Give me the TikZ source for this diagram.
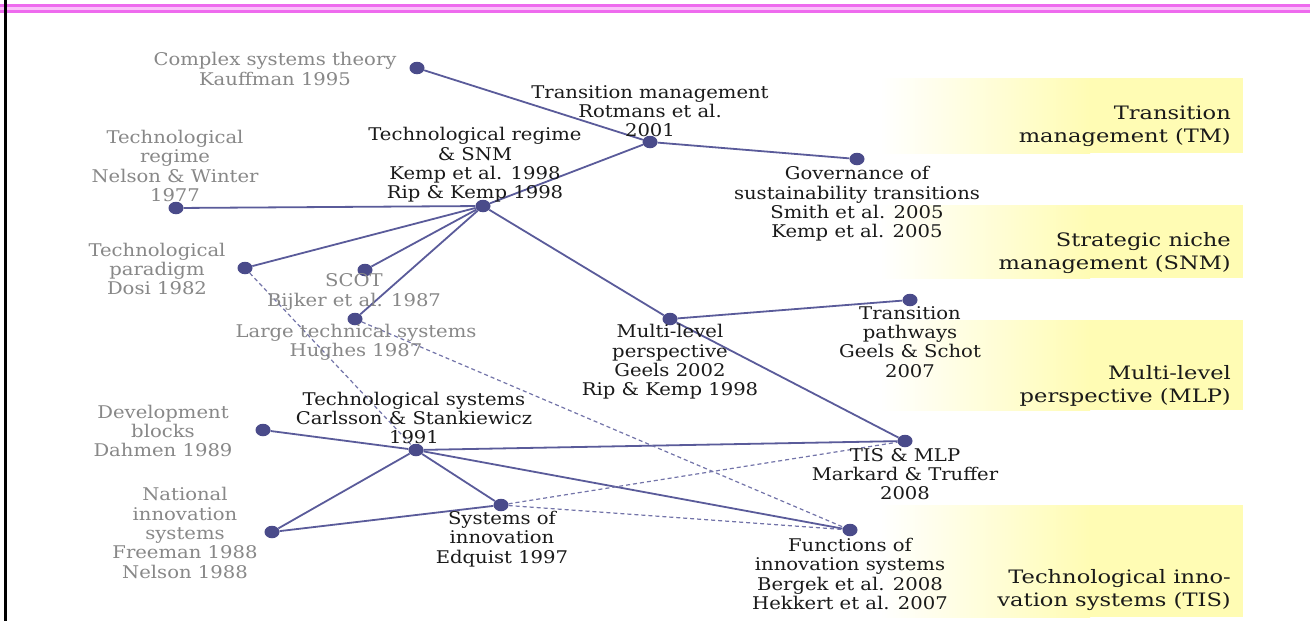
\documentclass[tikz,border=0pt]{standalone}
\usepackage{fontspec}
\setmainfont{DejaVu Serif}
\newfontfamily\conceptfont{DejaVu Serif}[FakeStretch=1.12]
\newfontfamily\fieldfont{DejaVu Serif}[FakeStretch=1.22]
\usetikzlibrary{shapes.geometric}
\definecolor{dotblue}{HTML}{4A4B8A}
\definecolor{linkblue}{HTML}{5A5B9A}
\definecolor{ink}{HTML}{1A1A1A}
\definecolor{oldgray}{HTML}{888888}
\definecolor{rulepink}{HTML}{EE6BEE}
\definecolor{rulelight}{HTML}{FAC2FA}
\definecolor{bandyellow}{HTML}{FFFCB4}
\begin{document}
\begin{tikzpicture}[x=1pt,y=-1pt,
  dot/.style={ellipse,fill=dotblue,inner sep=0pt,minimum width=15pt,minimum height=12.5pt},
  link/.style={draw=linkblue,line width=1.8pt},
  weak/.style={draw=linkblue!85,line width=1.2pt,dash pattern=on 4pt off 3pt},
  lbl/.style={align=center,inner sep=0pt,font=\conceptfont\fontsize{17.5}{19.3}\selectfont,text=ink},
  old/.style={lbl,text=oldgray},
  field/.style={align=right,inner sep=0pt,anchor=east,font=\fieldfont\fontsize{18.5}{22.5}\selectfont,text=ink}
]
\useasboundingbox (0,0) rectangle (1310,621);
\fill[white] (0,0) rectangle (1310,621);

% slide frame
\draw[rulepink,line width=9pt] (0,8.5) -- (1310,8.5);
\draw[rulelight,line width=3pt] (0,8.5) -- (1310,8.5);
\draw[black,line width=3pt] (5,0) -- (5,621);

% yellow bands behind the field names
\foreach \ya/\yb in {78/153, 205/278, 320/410, 505/617}{
  \shade[left color=white,right color=bandyellow] (880,\ya) rectangle (1090,\yb);
  \fill[bandyellow] (1089,\ya) rectangle (1243,\yb);
}

% field names
\node[field] (fTM)  at (1231,126) {Transition\\management (TM)};
\node[field] (fSNM) at (1231,253) {Strategic niche\\management (SNM)};
\node[field] (fMLP) at (1231,386) {Multi-level\\perspective (MLP)};
\node[field] (fTIS) at (1231,590) {Technological inno-\\vation systems (TIS)};

% concept dots
\node[dot] (cst)  at (417,68) {};
\node[dot] (tm)   at (650,142) {};
\node[dot] (gov)  at (857,159) {};
\node[dot] (tr)   at (483,206) {};
\node[dot] (nw)   at (176,208) {};
\node[dot] (tp)   at (245,268) {};
\node[dot] (scot) at (365,270) {};
\node[dot] (lts)  at (355,319) {};
\node[dot] (mlp)  at (670,319) {};
\node[dot] (tpw)  at (910,300) {};
\node[dot] (db)   at (263,430) {};
\node[dot] (ts)   at (416,450) {};
\node[dot] (tis)  at (905,441) {};
\node[dot] (nis)  at (272,532) {};
\node[dot] (si)   at (501,505) {};
\node[dot] (fis)  at (850,530) {};

% lineage links
\draw[link] (cst) -- (tm);
\draw[link] (tm) -- (gov);
\draw[link] (tm) -- (tr);
\draw[link] (nw) -- (tr);
\draw[link] (tp) -- (tr);
\draw[link] (scot) -- (tr);
\draw[link] (lts) -- (tr);
\draw[link] (tr) -- (mlp);
\draw[link] (mlp) -- (tpw);
\draw[link] (mlp) -- (tis);
\draw[link] (db) -- (ts);
\draw[link] (ts) -- (tis);
\draw[link] (ts) -- (fis);
\draw[link] (ts) -- (si);
\draw[link] (ts) -- (nis);
\draw[link] (nis) -- (si);
\draw[weak] (tp) -- (ts);
\draw[weak] (lts) -- (fis);
\draw[weak] (si) -- (tis);
\draw[weak] (si) -- (fis);

% concept labels
\node[old] (lcst)  at (275,69)  {Complex systems theory\\Kauffman 1995};
\node[lbl] (ltm)   at (650,111) {Transition management\\Rotmans et al.\\2001};
\node[lbl] (lgov)  at (857,204) {Governance of\\sustainability transitions\\Smith et al. 2005\\Kemp et al. 2005};
\node[lbl] (ltr)   at (475,165) {Technological regime\\\& SNM\\Kemp et al. 1998\\Rip \& Kemp 1998};
\node[old] (lnw)   at (175,166) {Technological\\regime\\Nelson \& Winter\\1977};
\node[old] (ltp)   at (157,269) {Technological\\paradigm\\Dosi 1982};
\node[old] (lscot) at (354,292) {SCOT\\Bijker et al. 1987};
\node[old] (llts)  at (356,342) {Large technical systems\\Hughes 1987};
\node[lbl] (lmlp)  at (670,362) {Multi-level\\perspective\\Geels 2002\\Rip \& Kemp 1998};
\node[lbl] (ltpw)  at (910,342) {Transition\\pathways\\Geels \& Schot\\2007};
\node[old] (ldb)   at (163,431) {Development\\blocks\\Dahmen 1989};
\node[lbl] (lts2)  at (414,418) {Technological systems\\Carlsson \& Stankiewicz\\1991};
\node[lbl] (ltis)  at (905,474) {TIS \& MLP\\Markard \& Truffer\\2008};
\node[old] (lnis)  at (185,533) {National\\innovation\\systems\\Freeman 1988\\Nelson 1988};
\node[lbl] (lsi)   at (502,539) {Systems of\\innovation\\Edquist 1997};
\node[lbl] (lfis)  at (850,574) {Functions of\\innovation systems\\Bergek et al. 2008\\Hekkert et al. 2007};
\end{tikzpicture}
\end{document}
